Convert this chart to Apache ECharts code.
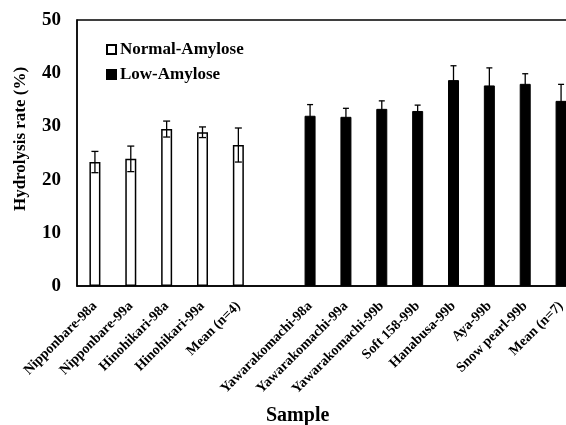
<!DOCTYPE html>
<html>
<head>
<meta charset="utf-8">
<script src="https://cdn.jsdelivr.net/npm/echarts@6/dist/echarts.min.js"></script>
<style>
html, body { margin: 0; padding: 0; background: #fff; }
#main { width: 566px; height: 425px; }
</style>
</head>
<body>
<div id="main"></div>
<script>
// categories (blank one keeps the gap between the two groups)
const categories = ['Nipponbare-98a', 'Nipponbare-99a', 'Hinohikari-98a', 'Hinohikari-99a', 'Mean (n=4)', '',
    'Yawarakomachi-98a', 'Yawarakomachi-99a', 'Yawarakomachi-99b', 'Soft 158-99b', 'Hanabusa-99b',
    'Aya-99b', 'Snow pearl-99b', 'Mean (n=7)'];
const normalVals = [23.3, 23.9, 29.5, 28.9, 26.5, '-', '-', '-', '-', '-', '-', '-', '-', '-'];
const normalErr = [2.0, 2.4, 1.5, 1.0, 3.2, '-', '-', '-', '-', '-', '-', '-', '-', '-'];
const lowVals = ['-', '-', '-', '-', '-', '-', 32.0, 31.8, 33.3, 32.9, 38.7, 37.7, 38.0, 34.8];
const lowErr = ['-', '-', '-', '-', '-', '-', 2.1, 1.6, 1.5, 1.1, 2.7, 3.3, 1.9, 3.1];
const yTicks = [0, 10, 20, 30, 40, 50];

const font = 'Liberation Serif';

function errData(vals, errs) {
    let out = [];
    for (let i = 0; i < vals.length; i++) {
        if (vals[i] !== '-') out.push([i, vals[i], errs[i]]);
    }
    return out;
}

function errRender(capW) {
    return function (params, api) {
        let x = api.value(0), v = api.value(1), e = api.value(2);
        let hi = api.coord([x, v + e]);
        let lo = api.coord([x, v - e]);
        let st = {stroke: '#000', lineWidth: 1.3};
        return {
            type: 'group',
            children: [
                {type: 'line', shape: {x1: hi[0], y1: hi[1], x2: lo[0], y2: lo[1]}, style: st},
                {type: 'line', shape: {x1: hi[0] - capW / 2, y1: hi[1], x2: hi[0] + capW / 2, y2: hi[1]}, style: st},
                {type: 'line', shape: {x1: lo[0] - capW / 2, y1: lo[1], x2: lo[0] + capW / 2, y2: lo[1]}, style: st}
            ]
        };
    };
}

let myChart = echarts.init(document.getElementById('main'));
let option = {
    animation: false,
    textStyle: {fontFamily: font, color: '#000'},
    title: {
        text: 'Sample',
        left: 261,
        top: 401,
        textStyle: {fontFamily: font, fontSize: 20, fontWeight: 'bold', color: '#000'}
    },
    legend: {
        orient: 'vertical',
        left: 101,
        top: 36,
        itemWidth: 9,
        itemHeight: 9,
        itemGap: 8,
        icon: 'rect',
        data: ['Normal-Amylose', 'Low-Amylose'],
        textStyle: {fontFamily: font, fontSize: 17, fontWeight: 'bold', color: '#000', padding: [0, 0, 0, -1]}
    },
    grid: {
        left: 77,
        top: 20,
        width: 502,
        height: 266,
        outerBoundsMode: 'none',
        containLabel: false,
        show: true,
        borderColor: '#000',
        borderWidth: 1.3
    },
    xAxis: {
        type: 'category',
        data: categories,
        axisLine: {lineStyle: {color: '#000', width: 1.5}},
        axisTick: {show: false},
        axisLabel: {
            interval: 0,
            rotate: 45,
            margin: 18,
            fontFamily: font,
            fontSize: 14,
            fontWeight: 'bold',
            color: '#000'
        }
    },
    yAxis: {
        type: 'value',
        min: 0,
        max: 50,
        interval: 10,
        name: 'Hydrolysis rate (%)',
        nameLocation: 'middle',
        nameGap: 48,
        nameTextStyle: {fontFamily: font, fontSize: 17, fontWeight: 'bold', color: '#000', padding: [0, 0, 0, 28]},
        axisLine: {show: true, lineStyle: {color: '#000', width: 1.5}},
        axisTick: {show: false},
        splitLine: {show: false},
        axisLabel: {
            margin: 16,
            fontFamily: font,
            fontSize: 19,
            fontWeight: 'bold',
            color: '#000',
            formatter: function (v) { return yTicks.indexOf(v) >= 0 ? String(v) : ''; }
        }
    },
    series: [
        {
            name: 'Normal-Amylose',
            type: 'bar',
            data: normalVals,
            barWidth: 11,
            barGap: '-100%',
            itemStyle: {color: '#fff', borderColor: '#000', borderWidth: 1.5}
        },
        {
            name: 'Low-Amylose',
            type: 'bar',
            data: lowVals,
            barWidth: 11,
            itemStyle: {color: '#000', borderColor: '#000', borderWidth: 1}
        },
        {
            type: 'custom',
            renderItem: errRender(7),
            data: errData(normalVals, normalErr),
            z: 5,
            silent: true
        },
        {
            type: 'custom',
            renderItem: errRender(6),
            data: errData(lowVals, lowErr),
            z: 5,
            silent: true
        }
    ]
};
myChart.setOption(option);
</script>
</body>
</html>
